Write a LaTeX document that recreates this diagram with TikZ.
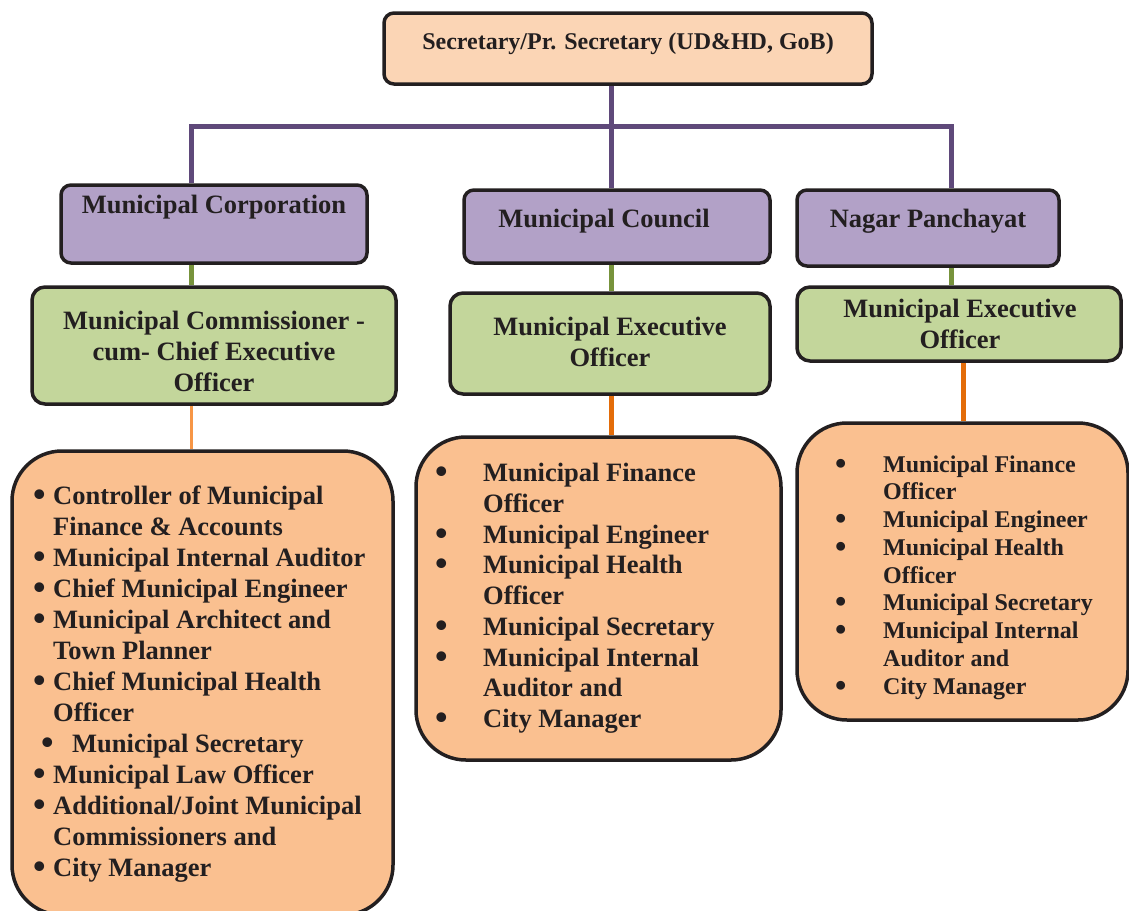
\documentclass[tikz,border=0pt]{standalone}
\usepackage{fontspec}
\usepackage{graphicx}
\setmainfont{Liberation Serif}
\definecolor{boxline}{HTML}{231F20}
\definecolor{secfill}{HTML}{FBD5B5}
\definecolor{ulbfill}{HTML}{B2A1C7}
\definecolor{ceofill}{HTML}{C3D69B}
\definecolor{stafffill}{HTML}{FAC090}
\definecolor{ulbline}{HTML}{5F497A}
\definecolor{ceoline}{HTML}{77933C}
\definecolor{staffline}{HTML}{E36C09}
\definecolor{stafflight}{HTML}{F79646}
\newcommand{\blt}{\raisebox{-1.8pt}{\scalebox{1.35}{\textbullet}}}
\tikzset{
	box/.style={draw=boxline, line width=3.5pt, inner sep=0pt},
	secbox/.style={box, fill=secfill, rounded corners=10pt},
	ulbbox/.style={box, fill=ulbfill, rounded corners=10pt},
	ceobox/.style={box, fill=ceofill, rounded corners=13pt},
	staffbox/.style={box, fill=stafffill, rounded corners=50pt},
	txt/.style={text=boxline, font=\bfseries\fontsize{26.5}{31}\selectfont, align=center, inner sep=0pt},
	stafflist/.style={text=boxline, anchor=north west, inner sep=0pt, align=left},
}
\begin{document}
\begin{tikzpicture}[x=1pt,y=-1pt]
	\clip (0,0) rectangle (1129,910);
	\fill[white] (0,0) rectangle (1129,910);
	% boxes
	\node[secbox, minimum width=488pt, minimum height=71pt] (sec) at (628,48.5) {};
	\node[ulbbox, minimum width=306pt, minimum height=78pt] (corp) at (214,224) {};
	\node[ulbbox, minimum width=306pt, minimum height=73pt] (council) at (617,226.5) {};
	\node[ulbbox, minimum width=262pt, minimum height=76pt] (panch) at (928,228) {};
	\node[ceobox, minimum width=364pt, minimum height=117pt] (comm) at (214,345.5) {};
	\node[ceobox, minimum width=320pt, minimum height=101pt] (meoA) at (610,343.5) {};
	\node[ceobox, minimum width=324pt, minimum height=74pt] (meoB) at (959,324) {};
	\node[staffbox, minimum width=381pt, minimum height=464pt] (staffC) at (202.5,683) {};
	\node[staffbox, minimum width=365pt, minimum height=323pt] (staffA) at (598.5,598.5) {};
	\node[staffbox, minimum width=331pt, minimum height=297pt] (staffB) at (962.5,571.5) {};
	% connectors
	\coordinate (hub) at (611,126);
	\coordinate (busL) at (191,126);
	\coordinate (busR) at (951,126);
	\coordinate (legB) at (963,0);
	\draw[ulbline, line width=5pt] (hub |- sec.south) -- (hub |- council.north);
	\draw[ulbline, line width=5pt] (busL |- corp.north) -- (busL) -- (busR) -- (busR |- panch.north);
	\draw[ceoline, line width=5pt] (busL |- corp.south) -- (busL |- comm.north);
	\draw[ceoline, line width=5pt] (hub |- council.south) -- (hub |- meoA.north);
	\draw[ceoline, line width=5pt] (busR |- panch.south) -- (busR |- meoB.north);
	\draw[stafflight, line width=3pt] (busL |- comm.south) -- (busL |- staffC.north);
	\draw[staffline, line width=5pt] (hub |- meoA.south) -- (hub |- staffA.north);
	\draw[staffline, line width=5pt] (legB |- meoB.south) -- (legB |- staffB.north);
	% titles
	\node[txt, font=\bfseries\fontsize{24}{28}\selectfont] (sectxt) at (628,44) {Secretary/Pr. Secretary (UD\&HD, GoB)};
	\node[txt] (corptxt) at (214,207) {Municipal Corporation};
	\node[txt] (counciltxt) at (604,221) {Municipal Council};
	\node[txt] (panchtxt) at (928,221) {Nagar Panchayat};
	\node[txt] (commtxt) at (214,351) {Municipal Commissioner -\\cum- Chief Executive\\Officer};
	\node[txt] (meoAtxt) at (610,341.5) {Municipal Executive\\Officer};
	\node[txt] (meoBtxt) at (960,323.5) {Municipal Executive\\Officer};
	% staff lists
	\node[stafflist] (listC) at (33,483) {\bfseries\fontsize{26.5}{31}\selectfont
		\begin{tabular}{@{}p{20pt}@{}l@{}}
			\blt & Controller of Municipal\\
			& Finance \& Accounts\\
			\blt & Municipal Internal Auditor\\
			\blt & Chief Municipal Engineer\\
			\blt & Municipal Architect and\\
			& Town Planner\\
			\blt & Chief Municipal Health\\
			& Officer\\
			\multicolumn{2}{@{}l@{}}{\makebox[39pt][l]{\hspace{8pt}\blt}Municipal Secretary}\\
			\blt & Municipal Law Officer\\
			\blt & Additional/Joint Municipal\\
			& Commissioners and\\
			\blt & City Manager
		\end{tabular}};
	\node[stafflist] (listA) at (435,460) {\bfseries\fontsize{26.5}{30.75}\selectfont
		\begin{tabular}{@{}p{48pt}@{}l@{}}
			\blt & Municipal Finance\\
			& Officer\\
			\blt & Municipal Engineer\\
			\blt & Municipal Health\\
			& Officer\\
			\blt & Municipal Secretary\\
			\blt & Municipal Internal\\
			& Auditor and\\
			\blt & City Manager
		\end{tabular}};
	\node[stafflist] (listB) at (835,452.6) {\bfseries\fontsize{24}{27.75}\selectfont
		\begin{tabular}{@{}p{48pt}@{}l@{}}
			\blt & Municipal Finance\\
			& Officer\\
			\blt & Municipal Engineer\\
			\blt & Municipal Health\\
			& Officer\\
			\blt & Municipal Secretary\\
			\blt & Municipal Internal\\
			& Auditor and\\
			\blt & City Manager
		\end{tabular}};
\end{tikzpicture}
\end{document}
